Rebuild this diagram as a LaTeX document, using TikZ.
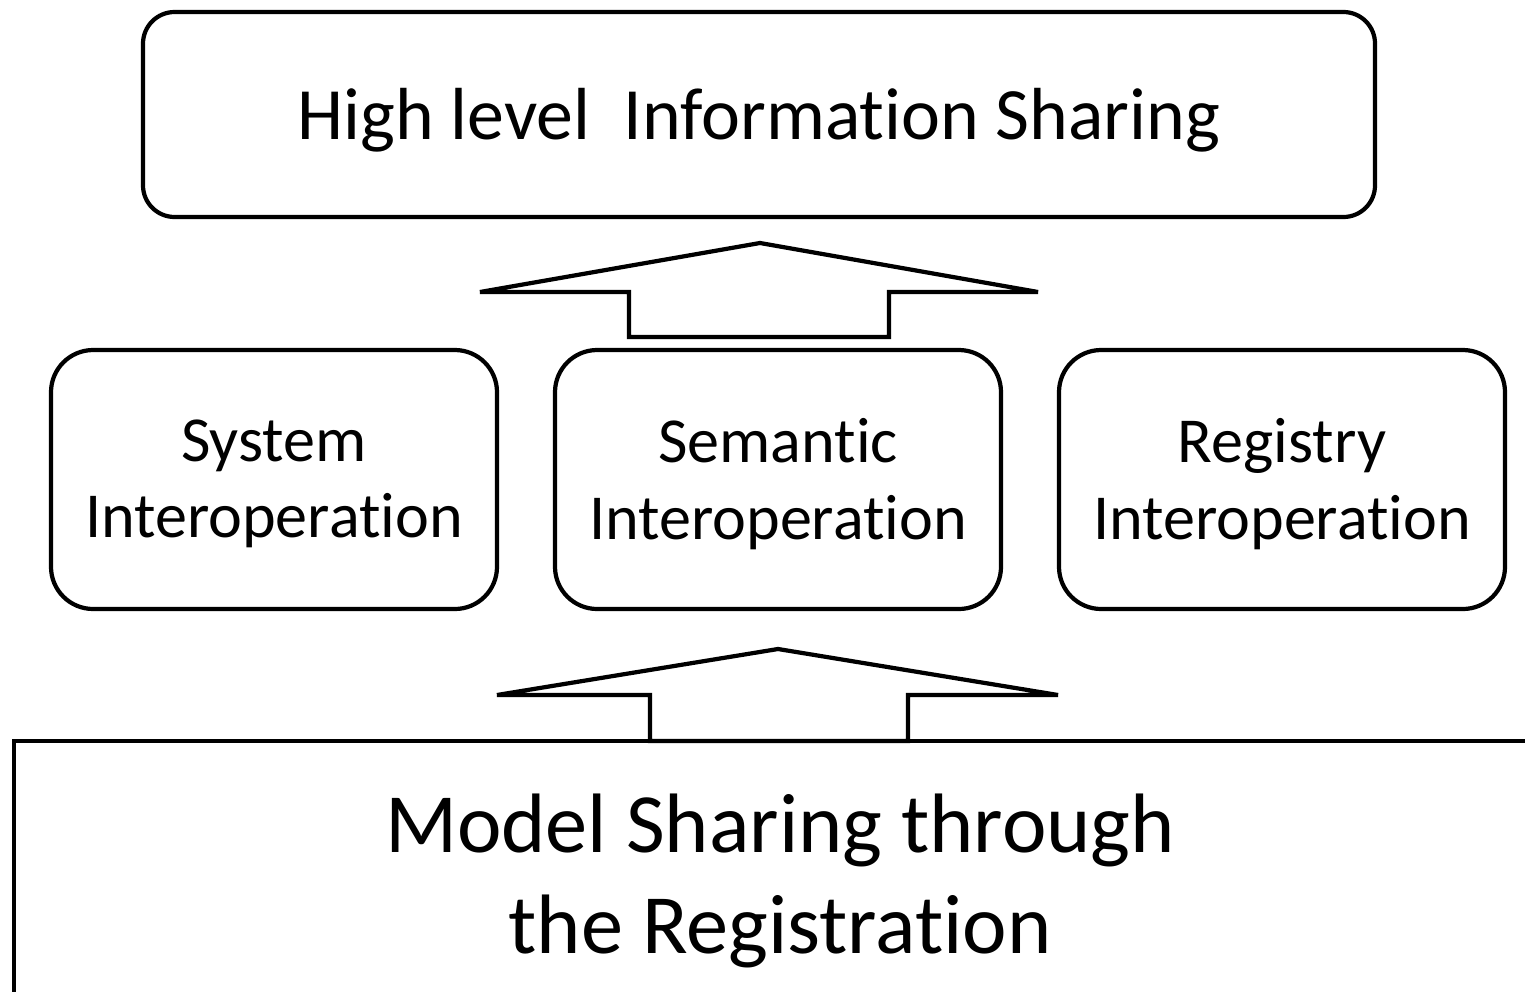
\documentclass[tikz,border=0pt]{standalone}
\usepackage{fontspec}
\setmainfont[Ligatures={NoCommon}]{Carlito}
\begin{document}
\begin{tikzpicture}[x=0.02cm,y=-0.02cm,
  box/.style={draw,line width=2.4pt,align=center,inner sep=0pt},
  midbox/.style={box,rounded corners=24pt,minimum width=446*0.02cm,minimum height=259*0.02cm,font=\fontsize{36.5}{43.5}\selectfont},
  blockarrow/.style={draw,line width=2.4pt,fill=white,line join=miter}]
\useasboundingbox (0,0) rectangle (1525,991);
\clip (0,0) rectangle (1525,991);
% top box
\draw[line width=2.4pt,rounded corners=18pt] (143,12) rectangle (1375,217);
\node[inner sep=0pt,font=\fontsize{42}{50}\selectfont] (top) at (759,120) {High level\ \ Information Sharing};
% middle boxes
\node[midbox] (sys) at (274,479.5) {};
\node[midbox] (sem) at (778,479.5) {};
\node[midbox] (reg) at (1282,479.5) {};
\node[align=center,inner sep=0pt,font=\fontsize{36.5}{43.5}\selectfont] (sysT) at (274,484) {System\\Interoperation};
\node[align=center,inner sep=0pt,font=\fontsize{36.5}{43.5}\selectfont] (semT) at (778,484) {Semantic\\Interoperation};
\node[align=center,inner sep=0pt,font=\fontsize{36.5}{43.5}\selectfont] (regT) at (1282,484) {Registry\\Interoperation};
% bottom box
\draw[line width=2.4pt] (14,1010) -- (14,741) -- (1546,741) -- (1546,1010);
\node[align=center,inner sep=0pt,font=\fontsize{48}{58}\selectfont] (bot) at (780,881) {Model Sharing through\\the Registration};
% block arrows
\coordinate (a1) at (760,243);
\draw[blockarrow] (a1) -- ++(278,49) -- ++(-149,0) -- ++(0,45) -- ++(-260,0) -- ++(0,-45) -- ++(-149,0) -- cycle;
\coordinate (a2) at (778,649);
\draw[blockarrow] (a2) -- ++(280,46) -- ++(-150,0) -- ++(0,46) -- ++(-258,0) -- ++(0,-46) -- ++(-153,0) -- cycle;
\end{tikzpicture}
\end{document}
